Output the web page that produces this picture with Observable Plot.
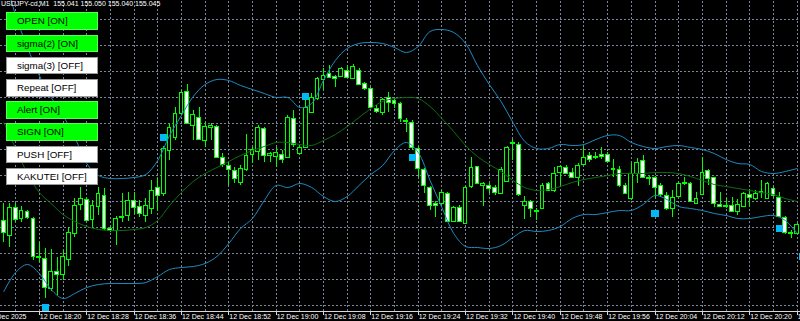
<!DOCTYPE html>
<html><head><meta charset="utf-8">
<script src="https://cdn.jsdelivr.net/npm/d3@7"></script>
<script src="https://cdn.jsdelivr.net/npm/@observablehq/plot@0.6"></script>
<style>
html,body{margin:0;padding:0;background:#000;overflow:hidden;}
#wrap{position:relative;width:800px;height:321px;overflow:hidden;}
#title{position:absolute;left:1px;top:-1px;color:#fff;font:7px "Liberation Sans",Arial,sans-serif;line-height:9px;white-space:pre;}
.btn{position:absolute;left:6px;width:92px;height:17.7px;box-sizing:border-box;font:9.8px "Liberation Sans",Arial,sans-serif;color:#000;padding-left:10px;line-height:15.7px;white-space:pre;}
.on{background:#00ff00;border:1px solid #55ff55;}
.off{background:#fff;border:1px solid #9a9a9a;}
</style></head>
<body><div id="wrap"></div>
<script>
// ---- header ----
const symbolName = "USDJPY-cd,M1";
const quote = ["155.041", "155.050", "155.040", "155.045"];

// ---- buttons ----
const buttonLabels = ["OPEN [ON]", "sigma(2) [ON]", "sigma(3) [OFF]", "Repeat [OFF]", "Alert [ON]", "SIGN [ON]", "PUSH [OFF]", "KAKUTEI [OFF]"];
const buttonOn = [true, true, false, false, true, true, false, false];

// ---- M1 candles, bar 0 = 12 Dec 18:14; prices in points (0.001 JPY) above 155.000 ----
const basePrice = 155.000, pointSize = 0.001;
const opens = [49,34,62,51,58,51,12,11,-19,-2,
  -5,10,36,65,70,50,63,74,41,39,
  52,54,69,63,54,61,82,76,119,132,
  156,178,144,152,129,142,143,112,104,99,
  87,100,115,118,141,114,113,115,112,151,
  116,122,157,171,190,196,193,193,199,191,
  199,186,181,161,157,172,169,166,149,147,
  121,100,82,66,66,76,48,62,46,83,
  103,84,84,82,76,88,126,125,64,68,
  58,61,86,79,97,102,97,92,105,114,
  113,115,115,101,100,84,71,96,109,92,
  92,84,74,61,73,87,86,66,75,99,
  92,65,64,64,58,63,75,71,77,71,
  81,72,52,37,36];
const highs = [66,66,66,63,59,52,27,21,20,12,
  19,42,71,82,72,69,82,81,43,53,
  76,77,77,69,71,89,91,123,146,162,
  179,185,159,162,147,146,144,116,107,102,
  104,135,122,144,142,117,122,119,154,159,
  124,172,176,192,201,204,194,202,204,205,
  201,187,182,164,171,177,171,167,151,149,
  123,101,83,68,79,77,63,64,83,112,
  103,87,86,84,102,123,130,127,73,69,
  61,86,87,102,104,104,101,106,122,117,
  117,122,117,110,103,86,106,111,114,93,
  93,86,77,79,87,92,87,77,112,100,
  92,77,71,72,70,77,80,79,89,87,
  82,77,53,39,46];
const lows = [27,22,47,47,50,9,7,-29,-22,-26,
  -11,3,32,59,48,41,54,39,37,24,
  47,48,55,52,47,55,58,73,109,129,
  154,145,129,129,122,129,111,102,84,86,
  84,98,106,109,107,107,102,106,111,122,
  114,121,156,169,179,191,182,192,191,190,
  184,179,161,156,154,157,161,147,137,119,
  92,76,59,52,64,47,47,48,45,81,
  85,63,76,74,76,87,109,73,50,52,
  49,60,78,77,84,95,91,83,104,107,
  110,110,106,92,82,75,69,86,91,84,
  71,72,59,52,72,84,67,66,74,84,
  62,62,61,57,54,62,62,69,71,70,
  72,52,35,31,34];
const closes = [37,62,50,59,52,13,13,-18,-2,-5,
  13,37,64,71,49,64,76,41,39,51,
  53,69,62,56,64,79,74,121,142,156,
  177,146,155,130,143,144,112,105,100,91,
  101,114,120,142,114,116,117,110,152,125,
  122,162,172,191,194,192,191,201,192,203,
  185,181,162,158,170,167,166,151,148,122,
  101,84,64,64,77,48,62,48,82,102,
  86,86,81,77,100,122,127,75,68,61,
  59,84,79,96,103,96,92,104,112,110,
  112,113,108,100,84,76,96,107,92,91,
  82,75,61,72,86,86,68,71,97,91,
  66,63,63,58,65,76,72,76,78,86,
  74,53,37,36,45];

// ---- Bollinger bands, read every 2nd bar (bars 0,2,...,134), points above 155.000 ----
const bandUpper = [297,254,222,194,172,154,132,106,94,91,91,92,95,109,134,154,173,185,190,189,184,180,176,172,172,162,166,189,209,221,226,227,226,222,217,223,238,240,237,226,204,185,168,147,128,121,121,125,124,125,130,134,134,127,123,121,123,124,122,120,116,110,106,105,98,96,98,101];
const bandMiddle = [147,121,96,77,66,55,48,43,40,39,39,40,42,49,64,77,88,96,102,108,114,119,123,127,127,125,124,129,135,143,152,161,168,171,172,171,163,151,138,124,113,105,98,89,82,79,80,83,87,90,92,94,96,96,96,97,97,96,93,89,85,83,81,79,77,75,71,68];
const bandLower = [-22,-3,5,-4,-20,-29,-24,-18,-15,-14,-14,-14,-13,-7,0,2,3,6,13,26,41,51,69,84,82,86,82,73,68,73,84,95,104,119,127,117,89,62,36,23,22,21,24,32,39,38,39,43,51,55,55,57,59,59,65,74,70,63,61,59,56,54,51,51,53,54,49,36];

// ---- signal squares ----
const signalBars = [7, 27, 51, 69, 110, 131, 135];
const signalPts = [-38, 132, 173, 112, 56, 41, 13];

// ---- grid & time axis ----
const gridPts = [250,224,198,172,146,120,94,68,42,16,-10,-36];
const gridBars = [2,6,10,14,18,22,26,30,34,38,42,46,50,54,58,62,66,70,74,78,82,86,90,94,98,102,106,110,114,118,122,126,130,134];
const firstLabelBar = 0;
const firstLabelText = "12 Dec 2025";
const labelBars = [6,14,22,30,38,46,54,62,70,78,86,94,102,110,118,126,134];
const labelTexts = ["12 Dec 18:20","12 Dec 18:28","12 Dec 18:36","12 Dec 18:44","12 Dec 18:52","12 Dec 19:00","12 Dec 19:08","12 Dec 19:16","12 Dec 19:24","12 Dec 19:32","12 Dec 19:40","12 Dec 19:48","12 Dec 19:56","12 Dec 20:04","12 Dec 20:12","12 Dec 20:20","12 Dec 20:28"];

// ---- build tables ----
const P = v => basePrice + v * pointSize;
const bars = opens.map((o, i) => ({k: i, open: P(o), high: P(highs[i]), low: P(lows[i]), close: P(closes[i])}));
const bands = bandUpper.map((u, i) => ({k: i * 2, upper: P(u), middle: P(bandMiddle[i]), lower: P(bandLower[i])}));
const signals = signalBars.map((k, i) => ({k, price: P(signalPts[i])}));
const gridPrices = gridPts.map(P);
const labels = labelBars.map((k, i) => ({k, text: labelTexts[i]}));

const yMin = 154.958, yMax = 155.269;
const grid = "#7b8798";
const labelFont = {fill: "#fff", fontSize: 7, fontFamily: "Liberation Sans, Arial, sans-serif", textAnchor: "start", lineAnchor: "top", dy: 3};
const chart = Plot.plot({
  width: 800, height: 321,
  marginTop: 0, marginBottom: 10, marginLeft: 0, marginRight: 0,
  style: {background: "#000", color: "#fff"},
  x: {type: "linear", domain: [-0.557, 134.57], axis: null},
  y: {domain: [yMin, yMax], axis: null},
  marks: [
    Plot.ruleY(gridPrices, {stroke: grid, strokeDasharray: "2,2", shapeRendering: "crispEdges"}),
    Plot.ruleX(gridBars, {y1: yMin, y2: yMax, stroke: grid, strokeDasharray: "2,2", shapeRendering: "crispEdges"}),
    Plot.ruleX(bars, {x: "k", y1: "low", y2: "high", stroke: "#00ff00", shapeRendering: "crispEdges", clip: true}),
    Plot.rect(bars, {x1: d => d.k - 0.32, x2: d => d.k + 0.32, y1: "open", y2: "close",
      fill: d => d.close > d.open ? "#000" : "#fff", stroke: "#00ff00", shapeRendering: "crispEdges", clip: true}),
    Plot.line(bands, {x: "k", y: "middle", stroke: "#0c6e12", strokeWidth: 1, curve: "catmull-rom", clip: true}),
    Plot.line(bands, {x: "k", y: "upper", stroke: "#1f8bc2", strokeWidth: 1, curve: "catmull-rom", clip: true}),
    Plot.line(bands, {x: "k", y: "lower", stroke: "#1f8bc2", strokeWidth: 1, curve: "catmull-rom", clip: true}),
    Plot.dot(signals, {x: "k", y: "price", symbol: "square", r: 4.2, fill: "#00b9f5", shapeRendering: "crispEdges"}),
    Plot.ruleY([yMin], {stroke: "#d8d8d8", shapeRendering: "crispEdges"}),
    Plot.ruleX(labelBars, {y1: yMin, y2: yMin - 0.004, stroke: "#d8d8d8", shapeRendering: "crispEdges"}),
    Plot.text([{k: firstLabelBar, text: firstLabelText}], {x: "k", y: yMin, text: "text", dx: -17, ...labelFont}),
    Plot.text(labels, {x: "k", y: yMin, text: "text", dx: 0.5, ...labelFont})
  ]
});
const wrap = document.getElementById("wrap");
wrap.appendChild(chart);
const title = document.createElement("div");
title.id = "title";
title.textContent = symbolName + "  " + quote.join(" ");
wrap.appendChild(title);
buttonLabels.forEach((t, i) => {
  const b = document.createElement("div");
  b.className = "btn " + (buttonOn[i] ? "on" : "off");
  b.style.top = (12.4 + 22.2 * i) + "px";
  b.textContent = t;
  wrap.appendChild(b);
});
</script></body></html>
